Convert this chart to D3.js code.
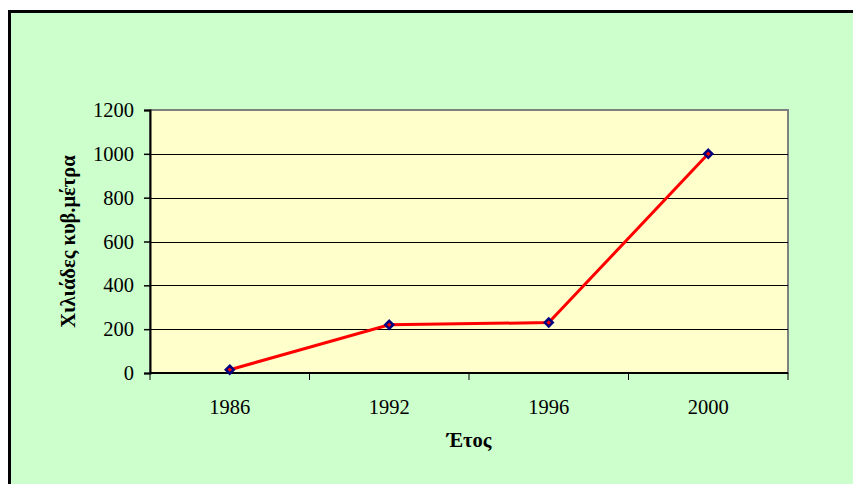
<!DOCTYPE html>
<html><head><meta charset="utf-8">
<script src="https://cdn.jsdelivr.net/npm/d3@7"></script>
<style>body{margin:0;background:#fff}svg{display:block}</style>
</head><body>
<script>
const years = ["1986", "1992", "1996", "2000"];
const values = [15, 220, 230, 1000];
const yTicks = [0, 200, 400, 600, 800, 1000, 1200];
const xTitle = "Έτος";
const yTitle = "Χιλιάδες κυβ.μέτρα";

const W = 853, H = 484;
const svg = d3.select("body").append("svg").attr("width", W).attr("height", H);
svg.append("rect").attr("x", 9.5).attr("y", 11.5).attr("width", W + 10).attr("height", H + 10)
  .attr("fill", "#CCFFCC").attr("stroke", "#000").attr("stroke-width", 3);

const L = 150, R = 788, T = 110, B = 373;
const x = d3.scalePoint().domain(years).range([L, R]).padding(0.5);
const y = d3.scaleLinear().domain([0, 1200]).range([B, T]);
const font = "'Liberation Serif', 'Times New Roman', serif";
const fs = 20.5;

svg.append("rect").attr("x", L).attr("y", T).attr("width", R - L).attr("height", B - T)
  .attr("fill", "#FFFFCC").attr("stroke", "#808080").attr("stroke-width", 2);

// gridlines
svg.append("g").selectAll("line").data(yTicks.filter(d => d > 0 && d < 1200)).join("line")
  .attr("x1", L).attr("x2", R).attr("y1", d => Math.round(y(d)) + 0.5).attr("y2", d => Math.round(y(d)) + 0.5)
  .attr("stroke", "#000").attr("stroke-width", 1);

// y axis
const yAxis = svg.append("g").attr("transform", `translate(${L},0)`)
  .call(d3.axisLeft(y).tickValues(yTicks).tickSize(6).tickPadding(10).tickFormat(d3.format("d")));
yAxis.select(".domain").attr("stroke", "#000").attr("stroke-width", 2);
yAxis.selectAll(".tick line").attr("stroke", "#000").attr("stroke-width", 1.5);
yAxis.selectAll("text").attr("font-family", font).attr("font-size", fs).attr("fill", "#000");

// x axis with ticks at band edges
const step = x.step();
const edges = d3.range(years.length + 1).map(i => L + i * step);
svg.append("line").attr("x1", L).attr("x2", R).attr("y1", B).attr("y2", B).attr("stroke", "#000").attr("stroke-width", 2);
svg.append("g").selectAll("line").data(edges).join("line")
  .attr("x1", d => d).attr("x2", d => d).attr("y1", B).attr("y2", B + 7)
  .attr("stroke", "#000").attr("stroke-width", 1);
svg.append("g").selectAll("text").data(years).join("text")
  .attr("x", d => x(d)).attr("y", 414).attr("text-anchor", "middle")
  .attr("font-family", font).attr("font-size", fs).text(d => d);

// titles
svg.append("text").attr("x", (L + R) / 2).attr("y", 447).attr("text-anchor", "middle")
  .attr("font-family", font).attr("font-size", fs).attr("font-weight", "bold").text(xTitle);
svg.append("text").attr("transform", `translate(75,${(T + B) / 2}) rotate(-90)`).attr("text-anchor", "middle")
  .attr("font-family", font).attr("font-size", fs).attr("font-weight", "bold").text(yTitle);

// line
const data = years.map((d, i) => ({ year: d, value: values[i] }));
svg.append("path").datum(data)
  .attr("d", d3.line().x(d => x(d.year)).y(d => y(d.value)))
  .attr("fill", "none").attr("stroke", "#FF0000").attr("stroke-width", 3);
svg.append("g").selectAll("path").data(data).join("path")
  .attr("transform", d => `translate(${x(d.year)},${y(d.value)})`)
  .attr("d", d3.symbol(d3.symbolDiamond2, 40))
  .attr("fill", "#FF0000").attr("stroke", "#000080").attr("stroke-width", 2.5);
</script>
</body></html>
